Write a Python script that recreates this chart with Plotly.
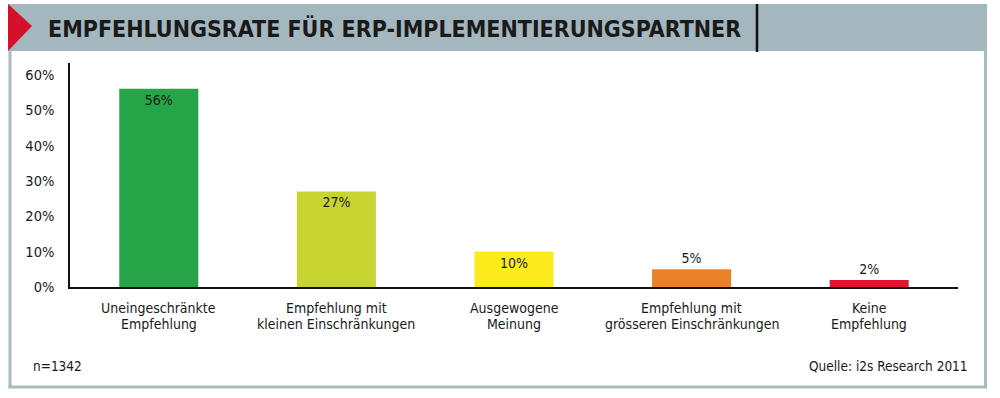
import plotly.graph_objects as go

# ---- data ----
categories = ["Uneingeschränkte<br>Empfehlung",
              "Empfehlung mit<br>kleinen Einschränkungen",
              "Ausgewogene<br>Meinung",
              "Empfehlung mit<br>grösseren Einschränkungen",
              "Keine<br>Empfehlung"]
values = [56, 27, 10, 5, 2]
text_positions = ["inside", "inside", "inside", "outside", "outside"]
bar_colors = ["#27a348", "#c7d431", "#fcec1b", "#ed8127", "#e0152f"]
y_ticks = [0, 10, 20, 30, 40, 50, 60]
y_tick_labels = ["0%", "10%", "20%", "30%", "40%", "50%", "60%"]
title_text = "EMPFEHLUNGSRATE FÜR ERP-IMPLEMENTIERUNGSPARTNER"
note_left = "n=1342"
note_right = "Quelle: i2s Research 2011"

W, H = 1000, 398
ML, MR, MT, MB = 70, 42, 63, 111
PW, PH = W - ML - MR, H - MT - MB

def px(x):
    return (x - ML) / PW

def py(y):
    return (H - MB - y) / PH

FONT = "DejaVu Sans Condensed, Liberation Sans Narrow, Arial Narrow, sans-serif"
BAND = "#a4b6be"
FRAME = "#a8bac2"
INK = "#1a1a1a"

fig = go.Figure()
fig.add_trace(go.Bar(
    x=categories, y=values,
    marker=dict(color=bar_colors, line=dict(width=0)),
    text=[f"{v}%" for v in values],
    textposition=text_positions,
    insidetextanchor="end",
    textfont=dict(family=FONT, size=14, color=INK),
    insidetextfont=dict(family=FONT, size=14, color=INK),
    outsidetextfont=dict(family=FONT, size=14, color=INK),
    cliponaxis=False,
    hoverinfo="skip",
))

shapes = []
# title band
shapes.append(dict(type="rect", xref="paper", yref="paper",
                   x0=px(8), x1=px(987), y0=py(51), y1=py(4),
                   fillcolor=BAND, line=dict(width=0), layer="below"))
# red triangle
shapes.append(dict(type="path", xref="paper", yref="paper",
                   path=f"M {px(8)} {py(4)} L {px(32)} {py(26)} L {px(8)} {py(51)} Z",
                   fillcolor="#d4112a", line=dict(width=0)))
# black divider in band
shapes.append(dict(type="line", xref="paper", yref="paper",
                   x0=px(757), x1=px(757), y0=py(4), y1=py(52),
                   line=dict(color="#111111", width=2.5)))
# frame
shapes.append(dict(type="line", xref="paper", yref="paper",
                   x0=px(10), x1=px(10), y0=py(51), y1=py(388),
                   line=dict(color=FRAME, width=3)))
shapes.append(dict(type="line", xref="paper", yref="paper",
                   x0=px(985.5), x1=px(985.5), y0=py(51), y1=py(388),
                   line=dict(color=FRAME, width=3)))
shapes.append(dict(type="line", xref="paper", yref="paper",
                   x0=px(8.5), x1=px(987), y0=py(387), y1=py(387),
                   line=dict(color=FRAME, width=3)))

annotations = [
    dict(text=f"<b>{title_text}</b>", xref="paper", yref="paper",
         x=px(46), y=py(28), xanchor="left", yanchor="middle", showarrow=False,
         font=dict(family=FONT, size=23, color=INK)),
    dict(text=note_left, xref="paper", yref="paper",
         x=px(31), y=py(366), xanchor="left", yanchor="middle", showarrow=False,
         font=dict(family=FONT, size=13.5, color=INK)),
    dict(text=note_right, xref="paper", yref="paper",
         x=px(970), y=py(366), xanchor="right", yanchor="middle", showarrow=False,
         font=dict(family=FONT, size=13.5, color=INK)),
]
# category labels (two lines each, tight line spacing)
for cat in categories:
    lines = cat.split("<br>")
    for i, line in enumerate(lines):
        annotations.append(dict(text=line, xref="x", yref="paper",
                                x=cat, y=py(308 + 16 * i), xanchor="center",
                                yanchor="middle", showarrow=False,
                                font=dict(family=FONT, size=14, color=INK)))

fig.update_layout(
    width=W, height=H,
    margin=dict(l=ML, r=MR, t=MT, b=MB),
    paper_bgcolor="white", plot_bgcolor="white",
    showlegend=False,
    bargap=0.555,
    shapes=shapes,
    annotations=annotations,
    xaxis=dict(showticklabels=False, showline=True, linecolor="#111111",
               linewidth=1.5, ticks="", showgrid=False, zeroline=False,
               fixedrange=True),
    yaxis=dict(range=[0, 63.3], tickmode="array", tickvals=y_ticks,
               ticktext=y_tick_labels,
               showline=True, linecolor="#111111", linewidth=1.5, ticks="",
               showgrid=False, zeroline=False, ticklabelstandoff=11,
               tickfont=dict(family=FONT, size=14.5, color=INK),
               fixedrange=True),
)

fig.write_html("out.html", config={"displayModeBar": False},
               post_script="document.body.style.margin='0';document.body.style.padding='0';")
